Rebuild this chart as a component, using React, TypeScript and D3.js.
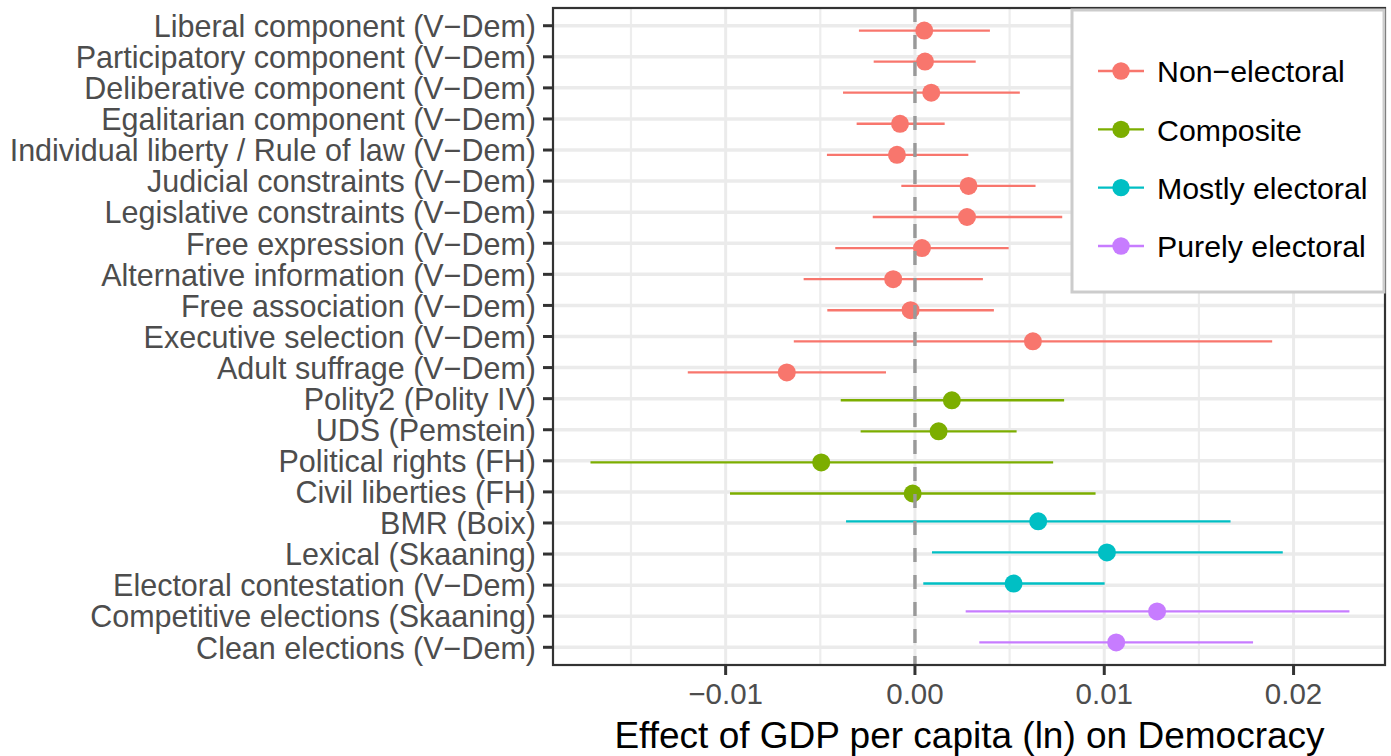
import React, { useRef, useEffect } from 'react';
import * as d3 from 'd3';

const indicators = [
    'Liberal component (V\u2212Dem)',
    'Participatory component (V\u2212Dem)',
    'Deliberative component (V\u2212Dem)',
    'Egalitarian component (V\u2212Dem)',
    'Individual liberty / Rule of law (V\u2212Dem)',
    'Judicial constraints (V\u2212Dem)',
    'Legislative constraints (V\u2212Dem)',
    'Free expression (V\u2212Dem)',
    'Alternative information (V\u2212Dem)',
    'Free association (V\u2212Dem)',
    'Executive selection (V\u2212Dem)',
    'Adult suffrage (V\u2212Dem)',
    'Polity2 (Polity IV)',
    'UDS (Pemstein)',
    'Political rights (FH)',
    'Civil liberties (FH)',
    'BMR (Boix)',
    'Lexical (Skaaning)',
    'Electoral contestation (V\u2212Dem)',
    'Competitive elections (Skaaning)',
    'Clean elections (V\u2212Dem)',
];

const groups = ['Non\u2212electoral', 'Composite', 'Mostly electoral', 'Purely electoral'];
const group_colors = ['#F8766D', '#7CAE00', '#00BFC4', '#C77CFF'];

const indicator_group = [
    0, 0, 0, 0, 0, 0, 0, 0, 0, 0, 0, 0,
    1, 1, 1, 1,
    2, 2, 2,
    3, 3,
];

const estimate = [
    0.00049, 0.00053, 0.00086, -0.00079, -0.00095, 0.00283, 0.00275, 0.00037, -0.00115, -0.00023, 0.00623,
    -0.00677, 0.00195, 0.00125, -0.00495, -0.00012, 0.00651, 0.01014, 0.00521, 0.01279, 0.01063,
];
const lower = [
    -0.00296, -0.00218, -0.0038, -0.00308, -0.00465, -0.00072, -0.00223, -0.00421, -0.00588, -0.00463, -0.0064,
    -0.012, -0.00392, -0.00287, -0.01714, -0.00977, -0.00364, 0.0009, 0.00044, 0.00268, 0.0034,
];
const upper = [
    0.00396, 0.00321, 0.00554, 0.00157, 0.00282, 0.00637, 0.00778, 0.00495, 0.00359, 0.00417, 0.01887,
    -0.00153, 0.00788, 0.00537, 0.0073, 0.00954, 0.01667, 0.01943, 0.01002, 0.02295, 0.01786,
];

const major_ticks = [-0.01, 0, 0.01, 0.02];
const minor_ticks = [-0.015, -0.005, 0.005, 0.015];
const x_title = 'Effect of GDP per capita (ln) on Democracy';

export default function App() {
    const wrapper_ref = useRef(null);

    useEffect(() => {
        const wrapper = d3.select(wrapper_ref.current);
        wrapper.selectAll('*').remove();

        const width = 1391;
        const height = 756;
        const font = "'Liberation Sans', Arial, Helvetica, sans-serif";
        const panel = { left: 553, right: 1385, top: 8, bottom: 665 };

        const svg = wrapper
            .append('svg')
            .attr('width', width)
            .attr('height', height)
            .style('position', 'absolute')
            .style('left', 0)
            .style('top', 0)
            .style('font-family', font);

        const x = d3.scaleLinear([-0.01912, 0.02483], [panel.left, panel.right]);
        const y = d3.scalePoint(indicators, [panel.top, panel.bottom]).padding(0.57);
        // position_dodge-like offset within a row
        const dodge = d3.scalePoint(groups, [y.step() * 0.155, -y.step() * 0.155]);

        svg.append('rect')
            .attr('x', panel.left)
            .attr('y', panel.top)
            .attr('width', panel.right - panel.left)
            .attr('height', panel.bottom - panel.top)
            .attr('fill', '#ffffff');

        const grid = svg.append('g');
        grid.selectAll('.minor')
            .data(minor_ticks)
            .join('line')
            .attr('x1', (d) => x(d))
            .attr('x2', (d) => x(d))
            .attr('y1', panel.top)
            .attr('y2', panel.bottom)
            .attr('stroke', '#ededed')
            .attr('stroke-width', 2.2);
        grid.selectAll('.major')
            .data(major_ticks)
            .join('line')
            .attr('x1', (d) => x(d))
            .attr('x2', (d) => x(d))
            .attr('y1', panel.top)
            .attr('y2', panel.bottom)
            .attr('stroke', '#ebebeb')
            .attr('stroke-width', 3);
        grid.selectAll('.hgrid')
            .data(indicators)
            .join('line')
            .attr('x1', panel.left)
            .attr('x2', panel.right)
            .attr('y1', (d) => y(d))
            .attr('y2', (d) => y(d))
            .attr('stroke', '#ebebeb')
            .attr('stroke-width', 3.5);

        const rows = indicators.map((name, i) => ({
            name,
            group: groups[indicator_group[i]],
            color: group_colors[indicator_group[i]],
            est: estimate[i],
            lo: lower[i],
            hi: upper[i],
        }));
        const row_y = (d) => y(d.name) + dodge(d.group);

        svg.append('g')
            .selectAll('line')
            .data(rows)
            .join('line')
            .attr('x1', (d) => x(d.lo))
            .attr('x2', (d) => x(d.hi))
            .attr('y1', row_y)
            .attr('y2', row_y)
            .attr('stroke', (d) => d.color)
            .attr('stroke-width', 2.3);

        svg.append('g')
            .selectAll('circle')
            .data(rows)
            .join('circle')
            .attr('cx', (d) => x(d.est))
            .attr('cy', row_y)
            .attr('r', 9)
            .attr('fill', (d) => d.color);

        svg.append('line')
            .attr('x1', x(0))
            .attr('x2', x(0))
            .attr('y1', panel.top)
            .attr('y2', panel.bottom)
            .attr('stroke', '#999999')
            .attr('stroke-width', 3.4)
            .attr('stroke-dasharray', '14,13');

        svg.append('rect')
            .attr('x', panel.left)
            .attr('y', panel.top)
            .attr('width', panel.right - panel.left)
            .attr('height', panel.bottom - panel.top)
            .attr('fill', 'none')
            .attr('stroke', '#333333')
            .attr('stroke-width', 2.2);

        // y axis
        const y_axis = svg.append('g');
        y_axis.selectAll('line')
            .data(indicators)
            .join('line')
            .attr('x1', panel.left - 10)
            .attr('x2', panel.left)
            .attr('y1', (d) => y(d))
            .attr('y2', (d) => y(d))
            .attr('stroke', '#333333')
            .attr('stroke-width', 3);
        y_axis.selectAll('text')
            .data(indicators)
            .join('text')
            .attr('x', 536)
            .attr('y', (d) => y(d))
            .attr('dy', '0.37em')
            .attr('text-anchor', 'end')
            .attr('font-size', 30.5)
            .attr('fill', '#4d4d4d')
            .text((d) => d);

        // x axis
        const x_axis = svg.append('g');
        x_axis.selectAll('line')
            .data(major_ticks)
            .join('line')
            .attr('x1', (d) => x(d))
            .attr('x2', (d) => x(d))
            .attr('y1', panel.bottom)
            .attr('y2', panel.bottom + 10)
            .attr('stroke', '#333333')
            .attr('stroke-width', 3);
        x_axis.selectAll('text')
            .data(major_ticks)
            .join('text')
            .attr('x', (d) => x(d))
            .attr('y', 704)
            .attr('text-anchor', 'middle')
            .attr('font-size', 29.5)
            .attr('fill', '#4d4d4d')
            .text((d) => (d < 0 ? '\u2212' : '') + d3.format('.2f')(Math.abs(d)));

        svg.append('text')
            .attr('x', (616 + 1323) / 2)
            .attr('y', 748)
            .attr('text-anchor', 'middle')
            .attr('font-size', 37)
            .attr('fill', '#000000')
            .text(x_title);

        // legend
        const legend = svg.append('g');
        legend.append('rect')
            .attr('x', 1072)
            .attr('y', 10)
            .attr('width', 1384 - 1072)
            .attr('height', 292 - 10)
            .attr('fill', '#ffffff')
            .attr('stroke', '#cccccc')
            .attr('stroke-width', 3);
        const legend_y = d3.scalePoint(groups, [71, 246]);
        const items = legend.selectAll('.item')
            .data(groups)
            .join('g')
            .attr('transform', (d) => `translate(0,${legend_y(d)})`);
        items.append('line')
            .attr('x1', 1098)
            .attr('x2', 1144)
            .attr('stroke', (d, i) => group_colors[i])
            .attr('stroke-width', 2.3);
        items.append('circle')
            .attr('cx', 1121)
            .attr('r', 8.7)
            .attr('fill', (d, i) => group_colors[i]);
        items.append('text')
            .attr('x', 1157)
            .attr('dy', '0.37em')
            .attr('font-size', 30.3)
            .attr('fill', '#000000')
            .text((d) => d);
    }, []);

    return <div ref={wrapper_ref}></div>;
}
